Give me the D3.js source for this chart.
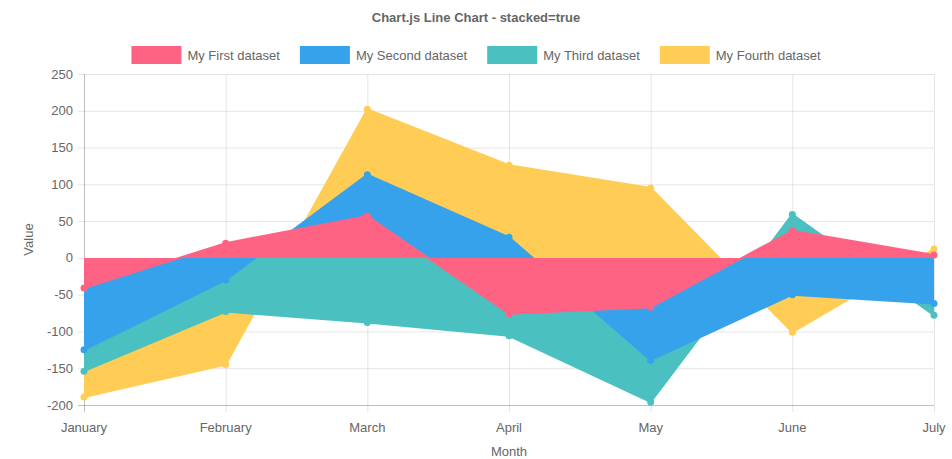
<!DOCTYPE html>
<html>
<head>
<meta charset="utf-8">
<script src="https://cdn.jsdelivr.net/npm/d3@7"></script>
<style>
  body { margin: 0; background: #fff; }
  svg text { font-family: 'Liberation Sans', Arial, sans-serif; fill: #666; }
</style>
</head>
<body>
<svg id="chart" width="952" height="459"></svg>
<script>
const months = ['January', 'February', 'March', 'April', 'May', 'June', 'July'];
const seriesNames = ['My First dataset', 'My Second dataset', 'My Third dataset', 'My Fourth dataset'];
const seriesColors = ['rgb(255, 99, 132)', 'rgb(54, 162, 235)', 'rgb(75, 192, 192)', 'rgb(255, 205, 86)'];

// raw (unstacked) values per dataset
const firstValues = [-41, 20, 57, -76, -67, 37, 4];
const secondValues = [-84, -30, 56, 28, -72, -50, -62];
const thirdValues = [-29, -43, -88, -30, -57, 22, -16];
const fourthValues = [-35, -72, 89, 98, 95, -51, 8];

const yTicks = [250, 200, 150, 100, 50, 0, -50, -100, -150, -200];

const allValues = [firstValues, secondValues, thirdValues, fourthValues];

// stack positives and negatives separately, like chart.js does
const stacked = allValues.map((vals, i) =>
  vals.map((v, j) => {
    let sum = 0;
    for (let k = 0; k <= i; k++) {
      const w = allValues[k][j];
      if ((v < 0) === (w < 0)) sum += w;
    }
    return sum;
  })
);

const width = 952;
const height = 459;
const padLeft = 84, padRight = 934, padTop = 74, padBottom = 405;
const fontSize = '13px';

const svg = d3.select('#chart');

const x = d3.scalePoint().domain(months).range([padLeft, padRight]);
const y = d3.scaleLinear().domain([-200, 250]).range([padBottom, padTop]);

// grid lines
const grid = svg.append('g');
grid.selectAll('line.h')
  .data(yTicks)
  .join('line')
  .attr('x1', padLeft - 6)
  .attr('x2', padRight)
  .attr('y1', (d) => y(d) + 0.5)
  .attr('y2', (d) => y(d) + 0.5)
  .attr('stroke', (d) => (d === -200 ? 'rgba(0,0,0,0.25)' : 'rgba(0,0,0,0.1)'));

grid.selectAll('line.v')
  .data(months)
  .join('line')
  .attr('x1', (d) => x(d) + 0.5)
  .attr('x2', (d) => x(d) + 0.5)
  .attr('y1', padTop)
  .attr('y2', padBottom + 7)
  .attr('stroke', (d, i) => (i === 0 ? 'rgba(0,0,0,0.25)' : 'rgba(0,0,0,0.1)'));

// y tick labels
svg.append('g')
  .selectAll('text')
  .data(yTicks)
  .join('text')
  .attr('x', padLeft - 11)
  .attr('y', (d) => y(d))
  .attr('dy', '0.35em')
  .attr('text-anchor', 'end')
  .style('font-size', fontSize)
  .text((d) => d);

// x tick labels
svg.append('g')
  .selectAll('text')
  .data(months)
  .join('text')
  .attr('x', (d) => x(d))
  .attr('y', padBottom + 22)
  .attr('dy', '0.35em')
  .attr('text-anchor', 'middle')
  .style('font-size', fontSize)
  .text((d) => d);

// axis titles
svg.append('text')
  .attr('x', (padLeft + padRight) / 2)
  .attr('y', 451)
  .attr('dy', '0.35em')
  .attr('text-anchor', 'middle')
  .style('font-size', fontSize)
  .text('Month');

svg.append('text')
  .attr('transform', `translate(28, ${y(25)}) rotate(-90)`)
  .attr('dy', '0.35em')
  .attr('text-anchor', 'middle')
  .style('font-size', fontSize)
  .text('Value');

// title
svg.append('text')
  .attr('x', width / 2)
  .attr('y', 17)
  .attr('dy', '0.35em')
  .attr('text-anchor', 'middle')
  .style('font-size', fontSize)
  .style('font-weight', 'bold')
  .text('Chart.js Line Chart - stacked=true');

// areas: last dataset drawn first so the first one ends up on top
const area = d3.area()
  .x((d, j) => x(months[j]))
  .y0(y(0))
  .y1((d) => y(d));

const line = d3.line()
  .x((d, j) => x(months[j]))
  .y((d) => y(d));

const order = d3.range(allValues.length).reverse();
order.forEach((i) => {
  const g = svg.append('g');
  g.append('path')
    .datum(stacked[i])
    .attr('d', area)
    .attr('fill', seriesColors[i]);
  g.append('path')
    .datum(stacked[i])
    .attr('d', line)
    .attr('fill', 'none')
    .attr('stroke', seriesColors[i])
    .attr('stroke-width', 2);
  g.selectAll('circle')
    .data(stacked[i])
    .join('circle')
    .attr('cx', (d, j) => x(months[j]))
    .attr('cy', (d) => y(d))
    .attr('r', 3.5)
    .attr('fill', seriesColors[i]);
});

// legend
const boxW = 50, boxH = 18, gap = 6, itemGap = 20;
const legend = svg.append('g');
const items = legend.selectAll('g')
  .data(seriesNames)
  .join('g');
items.append('rect')
  .attr('width', boxW)
  .attr('height', boxH)
  .attr('fill', (d, i) => seriesColors[i]);
items.append('text')
  .attr('x', boxW + gap)
  .attr('y', boxH / 2)
  .attr('dy', '0.35em')
  .style('font-size', fontSize)
  .text((d) => d);

let widths = [];
items.each(function () {
  widths.push(boxW + gap + this.querySelector('text').getComputedTextLength());
});
const total = d3.sum(widths) + itemGap * (widths.length - 1);
let cx = (width - total) / 2;
items.attr('transform', (d, i) => {
  const t = `translate(${cx}, 46)`;
  cx += widths[i] + itemGap;
  return t;
});
</script>
</body>
</html>
